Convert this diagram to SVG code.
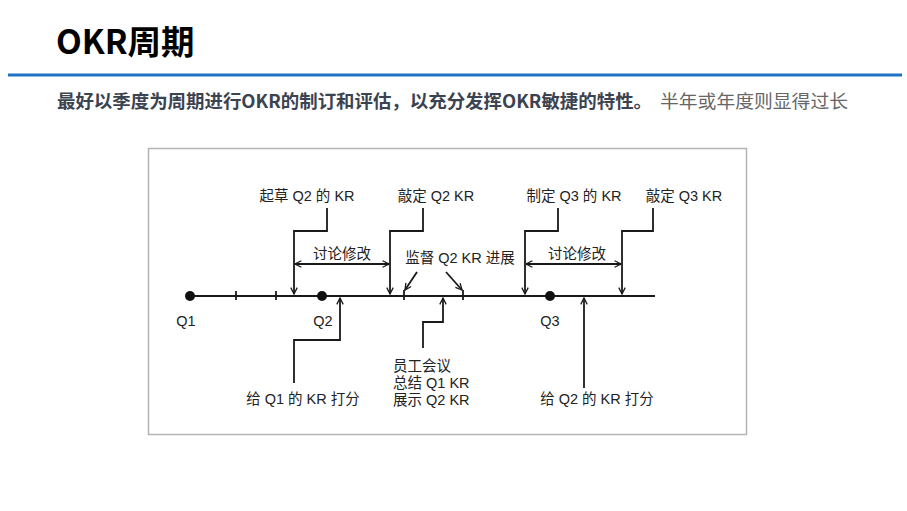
<svg xmlns="http://www.w3.org/2000/svg" width="907" height="511" viewBox="0 0 907 511">
<style>
.t{font-family:"Liberation Sans","Noto Sans CJK SC",sans-serif;font-size:14.5px;fill:#222}
.m{text-anchor:middle}
.ln{fill:none;stroke:#1a1a1a;stroke-width:1.8}
</style>
<defs>
<marker id="arr" viewBox="0 0 10 10" refX="9" refY="5" markerWidth="8" markerHeight="8" markerUnits="userSpaceOnUse" orient="auto-start-reverse">
<path d="M1,1 L9,5 L1,9" fill="none" stroke="#1a1a1a" stroke-width="1.6"/>
</marker>
</defs>
<rect width="907" height="511" fill="#fff"/>
<g id="header">
<text x="56" y="54" font-family="'Noto Sans CJK SC',sans-serif" font-weight="bold" font-size="33.5" fill="#000">OKR周期</text>
<line x1="8" y1="75" x2="902" y2="75" stroke="#1f73c4" stroke-width="3"/>
<text x="57" y="108" font-family="'Noto Sans CJK SC',sans-serif" font-weight="bold" font-size="18" fill="#3b4350" textLength="595" lengthAdjust="spacingAndGlyphs">最好以季度为周期进行OKR的制订和评估，以充分发挥OKR敏捷的特性。</text>
<text x="660" y="108" font-family="'Noto Sans CJK SC',sans-serif" font-size="18" fill="#666" textLength="188" lengthAdjust="spacingAndGlyphs">半年或年度则显得过长</text>
</g>
<rect x="148.5" y="148.5" width="598" height="286" fill="#fff" stroke="#b4b4b4" stroke-width="1.5"/>
<g id="timeline">
<line class="ln" x1="190" y1="296" x2="655" y2="296" stroke-width="2"/>
<line class="ln" x1="236" y1="291" x2="236" y2="300"/>
<line class="ln" x1="276" y1="291" x2="276" y2="300"/>
<line class="ln" x1="404" y1="290" x2="404" y2="300"/>
<line class="ln" x1="463" y1="290" x2="463" y2="300"/>
</g>
<g id="q1"><circle cx="190" cy="296" r="5" fill="#111"/><text class="t m" x="186" y="326">Q1</text></g>
<g id="q2"><circle cx="322" cy="296" r="5" fill="#111"/><text class="t m" x="323" y="326">Q2</text></g>
<g id="q3"><circle cx="550" cy="296" r="5" fill="#111"/><text class="t m" x="550" y="326">Q3</text></g>
<g id="draft-q2"><text class="t m" x="307" y="201">起草 Q2 的 KR</text></g>
<g id="finalize-q2"><text class="t m" x="436" y="201">敲定 Q2 KR</text></g>
<g id="set-q3"><text class="t m" x="574" y="201">制定 Q3 的 KR</text></g>
<g id="finalize-q3"><text class="t m" x="684" y="201">敲定 Q3 KR</text></g>
<g id="discuss1"><text class="t m" x="342" y="259">讨论修改</text></g>
<g id="discuss2"><text class="t m" x="577" y="259">讨论修改</text></g>
<g id="monitor"><text class="t m" x="460" y="263">监督 Q2 KR 进展</text></g>
<g id="score-q1"><text class="t m" x="303" y="404">给 Q1 的 KR 打分</text></g>
<g id="meeting"><text class="t" x="393" y="371">员工会议</text><text class="t" x="393" y="388">总结 Q1 KR</text><text class="t" x="393" y="405">展示 Q2 KR</text></g>
<g id="score-q2"><text class="t m" x="597" y="404">给 Q2 的 KR 打分</text></g>
<g id="connectors">
<polyline class="ln" points="327,208 327,231 294,231 294,294" marker-end="url(#arr)"/>
<polyline class="ln" points="423,208 423,231 390,231 390,294" marker-end="url(#arr)"/>
<polyline class="ln" points="558,208 558,231 525,231 525,294" marker-end="url(#arr)"/>
<polyline class="ln" points="653,208 653,231 622,231 622,294" marker-end="url(#arr)"/>
<line class="ln" x1="295" y1="264" x2="389" y2="264" marker-start="url(#arr)" marker-end="url(#arr)"/>
<line class="ln" x1="526" y1="264" x2="621" y2="264" marker-start="url(#arr)" marker-end="url(#arr)"/>
<line class="ln" x1="417" y1="272" x2="405" y2="290" marker-end="url(#arr)"/>
<line class="ln" x1="446" y1="272" x2="462" y2="290" marker-end="url(#arr)"/>
<polyline class="ln" points="294,383 294,340 340,340 340,298" marker-end="url(#arr)"/>
<polyline class="ln" points="423,348 423,322 443,322 443,298" marker-end="url(#arr)"/>
<polyline class="ln" points="584,388 584,298" marker-end="url(#arr)"/>
</g>
</svg>
